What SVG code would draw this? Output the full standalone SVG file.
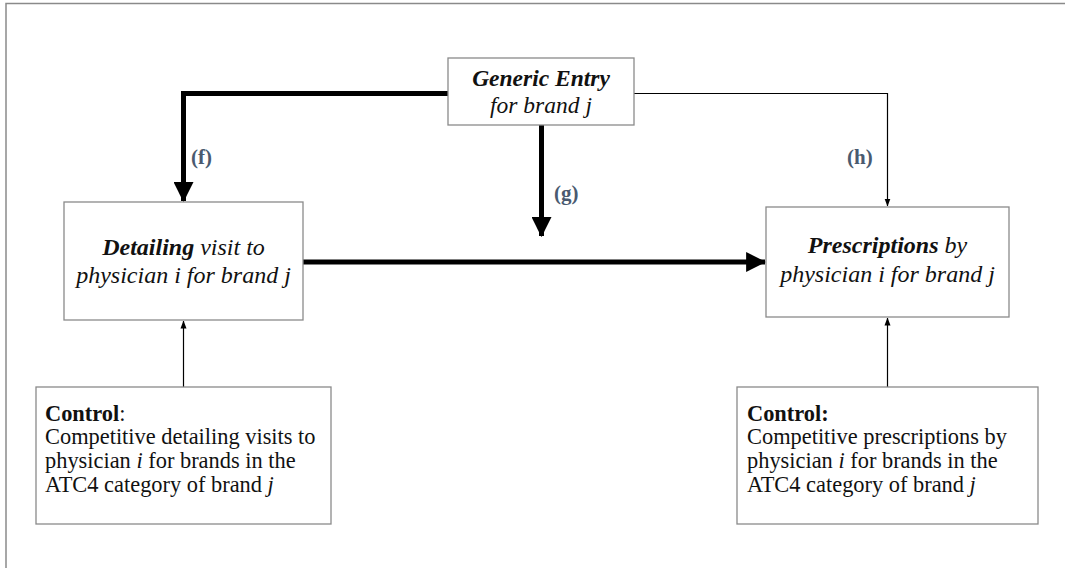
<svg xmlns="http://www.w3.org/2000/svg" width="1065" height="568" viewBox="0 0 1065 568">
<style>
.box{fill:#fff;stroke:#8a8a8a;stroke-width:1.3}
.t{font-family:"Liberation Serif","Times New Roman",serif;fill:#111}
.ti{font-style:italic}
.tb{font-weight:bold}
.lbl{font-family:"Liberation Serif","Times New Roman",serif;font-weight:bold;font-size:21px;fill:#4a5a70}
.thick{fill:none;stroke:#000;stroke-width:5}
.thin{fill:none;stroke:#000;stroke-width:1.2}
</style>
<defs>
<marker id="big" markerWidth="4" markerHeight="4" refX="3.4" refY="1.8" orient="auto" markerUnits="strokeWidth" viewBox="0 0 3.6 3.6">
<path d="M0,0 L3.6,1.8 L0,3.6 Z" fill="#000"/>
</marker>
<marker id="small" markerWidth="8" markerHeight="8" refX="7.5" refY="4" orient="auto" markerUnits="userSpaceOnUse" viewBox="0 0 8 8">
<path d="M0,1 L8,4 L0,7 Z" fill="#000"/>
</marker>
</defs>
<rect x="0" y="0" width="1065" height="568" fill="#fff"/>
<path d="M6,568 V3.5 H1065" fill="none" stroke="#8a8a8a" stroke-width="1.5"/>

<g id="connectors">
<path class="thick" d="M448,93.5 H183.5 V201" marker-end="url(#big)"/>
<path class="thick" d="M541.5,125 V236" marker-end="url(#big)"/>
<path class="thin" d="M634,93.5 H887.5 V206" marker-end="url(#small)"/>
<path class="thick" d="M303,262 H765" marker-end="url(#big)"/>
<path class="thin" d="M183.5,387 V321" marker-end="url(#small)"/>
<path class="thin" d="M887.5,387 V318" marker-end="url(#small)"/>
<text class="lbl" x="191" y="164">(f)</text>
<text class="lbl" x="554" y="200">(g)</text>
<text class="lbl" x="847" y="164">(h)</text>
</g>

<g id="generic-entry">
<rect class="box" x="448" y="58" width="186" height="67"/>
<text class="t ti tb" x="541" y="86" text-anchor="middle" font-size="23.5">Generic Entry</text>
<text class="t ti" x="541" y="113" text-anchor="middle" font-size="23.5">for brand j</text>
</g>

<g id="detailing">
<rect class="box" x="64" y="202" width="239" height="118"/>
<text class="t ti" x="183.5" y="255" text-anchor="middle" font-size="24"><tspan class="tb">Detailing</tspan> visit to</text>
<text class="t ti" x="183.5" y="283" text-anchor="middle" font-size="24">physician i for brand j</text>
</g>

<g id="prescriptions">
<rect class="box" x="766" y="207" width="243" height="110"/>
<text class="t ti" x="887.5" y="253" text-anchor="middle" font-size="24"><tspan class="tb">Prescriptions</tspan> by</text>
<text class="t ti" x="887.5" y="282" text-anchor="middle" font-size="24">physician i for brand j</text>
</g>

<g id="control-detailing">
<rect class="box" x="36" y="387" width="295" height="137"/>
<text class="t" x="45" y="421" font-size="22.4"><tspan class="tb">Control</tspan>:</text>
<text class="t" x="45" y="444" font-size="22.4">Competitive detailing visits to</text>
<text class="t" x="45" y="468" font-size="22.4">physician <tspan class="ti">i</tspan> for brands in the</text>
<text class="t" x="45" y="492" font-size="22.4">ATC4 category of brand <tspan class="ti">j</tspan></text>
</g>

<g id="control-prescriptions">
<rect class="box" x="737" y="387" width="301" height="137"/>
<text class="t tb" x="747" y="421" font-size="22.4">Control:</text>
<text class="t" x="747" y="444" font-size="22.4">Competitive prescriptions by</text>
<text class="t" x="747" y="468" font-size="22.4">physician <tspan class="ti">i</tspan> for brands in the</text>
<text class="t" x="747" y="492" font-size="22.4">ATC4 category of brand <tspan class="ti">j</tspan></text>
</g>
</svg>
